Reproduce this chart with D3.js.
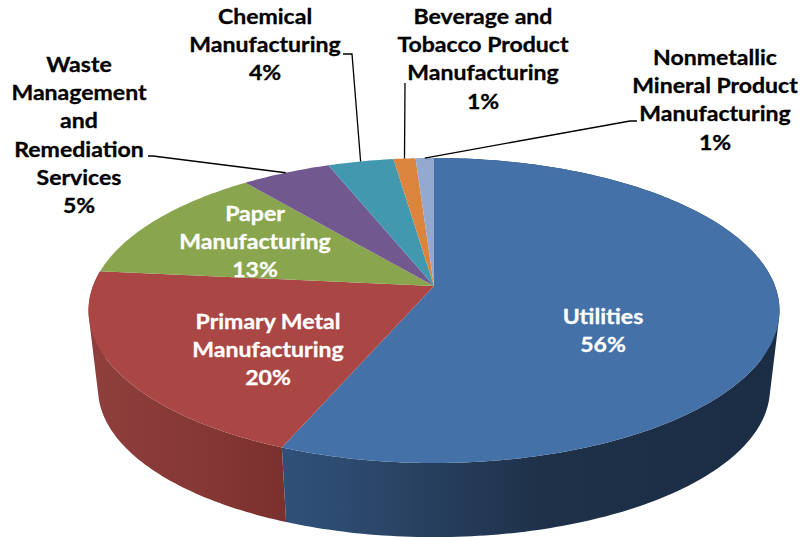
<!DOCTYPE html>
<html>
<head>
<meta charset="utf-8">
<script src="https://cdn.jsdelivr.net/npm/d3@7/dist/d3.min.js"></script>
<style>
html, body { margin: 0; padding: 0; background: #fff; }
svg { display: block; }
text { font-family: Lato, "Open Sans", sans-serif; font-weight: 700; font-size: 20.5px; text-anchor: middle; }
</style>
</head>
<body>
<svg id="chart" width="802" height="537"></svg>
<script>
var categories = [
    ['Utilities'],
    ['Primary Metal', 'Manufacturing'],
    ['Paper', 'Manufacturing'],
    ['Waste', 'Management', 'and', 'Remediation', 'Services'],
    ['Chemical', 'Manufacturing'],
    ['Beverage and', 'Tobacco Product', 'Manufacturing'],
    ['Nonmetallic', 'Mineral Product', 'Manufacturing']
];
var shares = [56.2, 20.4, 12.7, 4.9, 3.6, 1.2, 1.0];
var sliceColors = ['#4471a7', '#aa4644', '#89a54e', '#71588f', '#4198af', '#db843d', '#93a9cf'];

// label placement, same order as categories: centre x, first baseline, text colour
var labelX = [603, 268, 255, 79, 265, 483, 715];
var labelY = [324, 329, 221, 72, 24, 24, 65];
var labelFill = ['#fff', '#fff', '#fff', '#000', '#000', '#000', '#000'];
var lineStep = 28.2;
var textStretch = 1.125; // the picture has wide, stretched lettering

// leader knees: [label end x, knee x, knee y]; null means no leader
var leaders = [null, null, null,
    [148, 153, 156],
    [343, 352, 54],
    [405, 405, 83],
    [637, 630, 121]];

var topFace = { x: 434, y: 286, a: 341, b: 148.6 };
var bottomFace = { x: 434, y: 365, a: 331.6, b: 144.5 };
var tilt = 0.1607;

var svg = d3.select('#chart');

var pie = d3.pie().sort(null).startAngle(0).endAngle(2 * Math.PI);
var slices = pie(shares);
var percent = d3.format('.0f');

// a point on the pie rim, angle clockwise from the back, seen in perspective
function project(face, angle) {
    var u = Math.sin(angle);
    var v = -Math.cos(angle);
    var w = 1 - tilt * v;
    return [face.x + face.a * u / w, face.y + face.b * v / w];
}

function rim(face, d) {
    var n = Math.ceil((d.endAngle - d.startAngle) * 180 / Math.PI) + 1;
    return d3.range(n + 1).map(function (i) {
        return project(face, d.startAngle + (d.endAngle - d.startAngle) * i / n);
    });
}

var line = d3.line();

var defs = svg.append('defs');
addGradient('wall0', [[285, '#2f5079'], [340, '#2d4b70'], [400, '#2a4364'], [470, '#243a57'], [540, '#1e3149'], [780, '#1b2d45']]);
addGradient('wall1', [[89, '#8f403d'], [150, '#8a3b39'], [220, '#833634'], [287, '#7a302e']]);

function addGradient(id, stops) {
    var g = defs.append('linearGradient')
        .attr('id', id)
        .attr('gradientUnits', 'userSpaceOnUse')
        .attr('x1', 89).attr('x2', 780)
        .attr('y1', 0).attr('y2', 0);
    stops.forEach(function (s) {
        g.append('stop').attr('offset', (s[0] - 89) / (780 - 89)).attr('stop-color', s[1]);
    });
}

// one quad per rim step, all wound the same way or the tangent sides cancel out
function wallPath(d) {
    var a = rim(topFace, d);
    var b = rim(bottomFace, d);
    return d3.range(a.length - 1).map(function (i) {
        var quad = [a[i], a[i + 1], b[i + 1], b[i]];
        if (d3.polygonArea(quad) < 0) quad.reverse();
        return line(quad) + 'Z';
    }).join('');
}

// side walls first, only the two front slices ever show
svg.append('g').selectAll('path')
    .data(slices.slice(0, 2))
    .join('path')
    .attr('d', wallPath)
    .attr('fill', function (d, i) { return 'url(#wall' + i + ')'; });

svg.append('g').selectAll('path')
    .data(slices)
    .join('path')
    .attr('d', function (d) {
        return line([[topFace.x, topFace.y]].concat(rim(topFace, d))) + 'Z';
    })
    .attr('fill', function (d, i) { return sliceColors[i]; });

svg.append('g').selectAll('path')
    .data(slices.filter(function (d, i) { return leaders[i]; }))
    .join('path')
    .attr('d', function (d) {
        var k = leaders[d.index];
        return line([[k[0], k[2]], [k[1], k[2]], project(topFace, (d.startAngle + d.endAngle) / 2)]);
    })
    .attr('fill', 'none')
    .attr('stroke', '#000')
    .attr('stroke-width', 1.3);

svg.append('g').selectAll('g')
    .data(slices)
    .join('g')
    .attr('fill', function (d, i) { return labelFill[i]; })
    .attr('stroke', function (d, i) { return labelFill[i]; })
    .attr('stroke-width', 0.3)
    .selectAll('text')
    .data(function (d) {
        return categories[d.index].concat(percent(d.data) + '%').map(function (t, j) {
            return { text: t, x: labelX[d.index], y: labelY[d.index] + j * lineStep };
        });
    })
    .join('text')
    .attr('transform', function (t) {
        return 'translate(' + t.x + ',' + t.y + ') scale(' + textStretch + ',1)';
    })
    .text(function (t) { return t.text; });
</script>
</body>
</html>
